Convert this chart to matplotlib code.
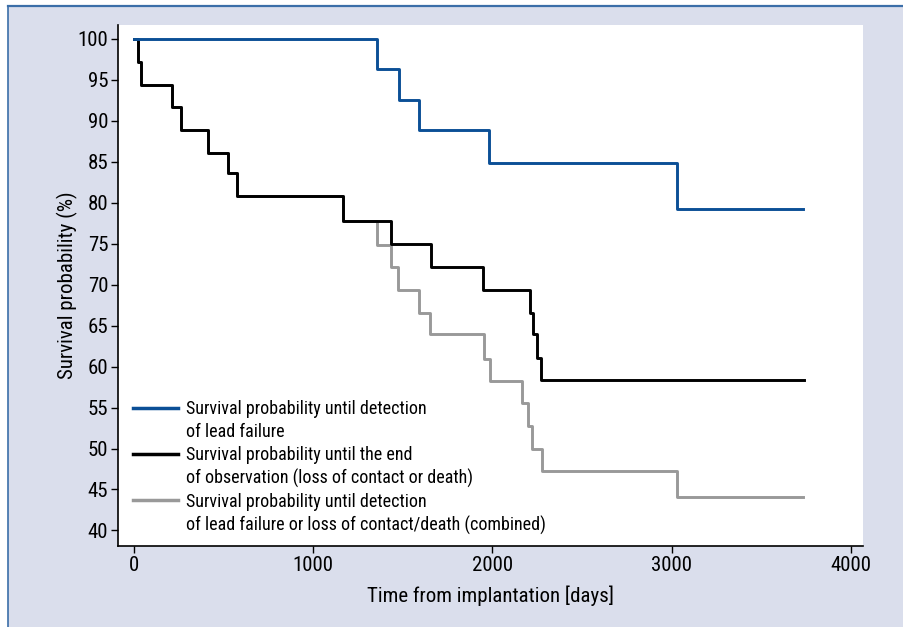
import matplotlib
matplotlib.use("Agg")
import matplotlib.pyplot as plt
from matplotlib.lines import Line2D
from matplotlib.patches import Rectangle
import logging
logging.getLogger("matplotlib.font_manager").setLevel(logging.ERROR)

plt.rcParams['font.family'] = ['Roboto Condensed', 'Archivo Narrow', 'PT Sans Narrow', 'DejaVu Sans']

# ---- data (days, survival %) ----
blue_t = [0, 1358, 1478, 1592, 1980, 3029, 3735]
blue_s = [100, 96.3, 92.6, 88.9, 84.9, 79.2, 79.2]

black_t = [0, 20, 39, 212, 264, 415, 526, 577, 1168, 1432, 1655, 1949, 2210, 2224, 2250, 2271, 3740]
black_s = [100, 97.2, 94.4, 91.7, 88.9, 86.1, 83.6, 80.8, 77.8, 75.0, 72.2, 69.3, 66.6, 64.0, 61.1, 58.4, 58.4]

grey_t = [0, 20, 39, 212, 264, 415, 526, 577, 1168, 1358, 1432, 1475, 1590, 1651, 1954, 1984, 2162, 2199, 2222, 2274, 3027, 3730]
grey_s = [100, 97.2, 94.4, 91.7, 88.9, 86.1, 83.6, 80.8, 77.8, 74.8, 72.1, 69.3, 66.5, 64.0, 60.9, 58.3, 55.6, 52.8, 50.0, 47.3, 44.1, 44.1]

labels = [
    ["Survival probability until detection", "of lead failure"],
    ["Survival probability until the end", "of observation (loss of contact or death)"],
    ["Survival probability until detection", "of lead failure or loss of contact/death (combined)"],
]
colors = ["#0b4f96", "#000000", "#999999"]

yticks = list(range(40, 101, 5))
xticks = [0, 1000, 2000, 3000, 4000]

W, H = 904, 627
fig = plt.figure(figsize=(W / 100, H / 100), dpi=100)
fig.patch.set_facecolor("white")
bg = "#dadeec"
fig.patches.append(Rectangle((8 / W, 0), 1 - 8 / W, 1 - 6 / H, transform=fig.transFigure,
                             facecolor=bg, edgecolor="none", zorder=-10))
fig.add_artist(Line2D([8 / W, 1], [1 - 5.5 / H, 1 - 5.5 / H], transform=fig.transFigure,
                      color="#3b6ea8", lw=1.6))
fig.add_artist(Line2D([8 / W, 8 / W], [0, 1 - 5.5 / H], transform=fig.transFigure,
                      color="#3b6ea8", lw=1.2))

ax = fig.add_axes([118 / W, 1 - 546 / H, (863 - 118) / W, (546 - 25) / H])
ax.set_facecolor("white")

ax.step(grey_t, grey_s, where="post", color=colors[2], lw=2.1, zorder=2)
ax.step(black_t, black_s, where="post", color=colors[1], lw=2.1, zorder=3)
ax.step(blue_t, blue_s, where="post", color=colors[0], lw=2.1, zorder=4)

ax.set_xlim(-89, 4067)
ax.set_ylim(38.1, 101.7)
ax.set_xticks(xticks)
ax.set_yticks(yticks)
ax.tick_params(direction="out", length=5, width=1, labelsize=15, colors="black", pad=2)
for s in ["top", "right"]:
    ax.spines[s].set_visible(False)
for s in ["left", "bottom"]:
    ax.spines[s].set_linewidth(1.2)

ax.set_xlabel("Time from implantation [days]", fontsize=15, labelpad=8)
ax.set_ylabel("Survival probability (%)", fontsize=15, labelpad=0)

handles, texts = [], []
for c, (l1, l2) in zip(colors, labels):
    handles.append(Line2D([], [], color=c, lw=2.5))
    texts.append(l1)
    handles.append(Line2D([], [], color="none", lw=0))
    texts.append(l2)
leg = ax.legend(handles, texts, loc="upper left", bbox_to_anchor=(0.02, 0.28),
                frameon=False, fontsize=13, handlelength=2.5, handletextpad=0.45,
                labelspacing=0.27, borderpad=0, borderaxespad=0)

fig.savefig("out.png", dpi=100, facecolor=fig.get_facecolor())
